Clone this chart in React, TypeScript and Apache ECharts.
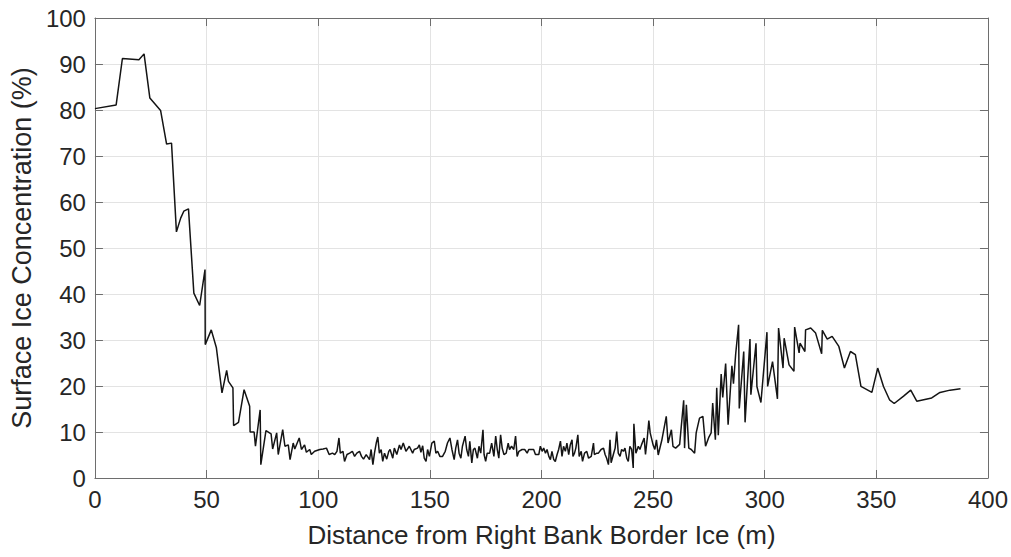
import React, { useEffect, useRef } from "react";
import * as echarts from "echarts";

const distance: number[] = [
  0, 9.5, 12.3, 19.7, 22.0, 24.6, 29.4, 32.1, 34.3, 36.5, 38.4, 39.8, 41.9, 44.3, 46.9, 49.3, 49.4, 52.1, 54.4, 56.9,
  59.0, 59.8, 61.8, 62.1, 64.3, 66.8, 69.3, 69.5, 71.3, 71.9, 74.0, 74.3, 76.6, 78.9, 79.6, 81.4, 82.1, 84.1, 85.1, 86.6,
  87.4, 88.8, 89.5, 91.5, 92.5, 93.9, 94.7, 96.2, 96.9, 98.4, 100.7, 102.2, 103.7, 104.9, 106.4, 107.4, 108.4, 109.3, 109.9, 111.1,
  111.8, 112.9, 114.1, 115.3, 116.3, 117.3, 118.5, 119.4, 120.3, 121.5, 123.0, 123.7, 124.5, 125.2, 126.0, 126.7, 127.4, 128.2, 128.9, 129.7,
  130.7, 131.6, 132.2, 133.4, 134.1, 135.2, 136.4, 137.1, 138.1, 139.3, 140.8, 142.3, 143.0, 144.5, 145.3, 146.0, 146.8, 147.5, 148.3, 149.0,
  149.8, 150.9, 152.0, 152.7, 153.5, 154.5, 155.7, 156.9, 157.9, 159.0, 159.9, 160.9, 161.6, 162.4, 163.1, 163.9, 164.6, 165.8, 166.5, 167.3,
  167.9, 168.8, 169.5, 170.2, 171.3, 172.0, 172.8, 173.8, 174.3, 175.0, 175.7, 176.8, 177.7, 178.7, 179.5, 180.2, 180.9, 181.7, 182.4, 183.2,
  184.2, 185.1, 185.7, 186.6, 187.6, 188.4, 189.1, 189.9, 191.3, 192.5, 193.6, 194.3, 195.8, 196.5, 197.3, 198.8, 199.5, 200.3, 201.0, 201.8,
  202.5, 203.3, 204.0, 204.7, 205.5, 206.2, 207.0, 207.7, 208.5, 209.2, 209.9, 210.7, 211.4, 212.2, 212.9, 213.7, 214.1, 214.8, 215.4, 216.3,
  216.9, 217.8, 218.4, 219.3, 220.3, 221.1, 222.3, 223.3, 223.7, 224.8, 225.5, 226.7, 227.8, 228.5, 229.2, 230.0, 230.7, 231.2, 232.2, 233.0,
  233.7, 234.4, 235.2, 235.9, 236.7, 237.4, 238.2, 238.9, 239.6, 240.4, 241.1, 241.4, 242.3, 243.4, 244.1, 244.8, 246.0, 246.6, 247.4, 248.1,
  248.7, 250.0, 250.8, 251.5, 252.3, 253.3, 253.9, 255.9, 256.7, 258.2, 258.9, 260.1, 261.9, 263.7, 264.1, 264.9, 266.0, 267.1, 268.6, 269.3,
  270.8, 272.3, 273.5, 275.0, 276.0, 276.7, 277.9, 278.5, 279.2, 280.5, 281.2, 282.5, 283.6, 285.3, 286.0, 287.0, 288.3, 288.6, 290.6, 291.2,
  293.4, 293.8, 296.1, 296.5, 298.3, 301.0, 301.3, 303.5, 305.7, 306.2, 308.2, 308.7, 310.9, 313.1, 313.4, 315.4, 315.8, 318.0, 318.3, 320.6,
  322.8, 325.5, 325.8, 328.0, 330.2, 333.2, 335.7, 338.4, 340.6, 343.1, 348.0, 350.6, 353.2, 355.9, 358.0, 362.2, 365.4, 368.1, 374.8, 378.5,
  383.0, 387.7,
];

const concentration: number[] = [
  80.3, 81.1, 91.2, 90.9, 92.2, 82.6, 79.9, 72.6, 72.8, 53.5, 56.5, 58.0, 58.5, 40.2, 37.5, 45.3, 29.0, 32.2, 28.3, 18.5,
  23.4, 21.0, 19.6, 11.4, 12.1, 19.2, 15.6, 10.0, 10.0, 6.9, 14.8, 2.9, 10.3, 9.6, 6.3, 9.8, 5.1, 10.5, 6.9, 7.2,
  4.0, 7.6, 6.3, 8.7, 6.2, 7.2, 5.6, 6.2, 5.1, 5.8, 6.2, 6.3, 6.5, 5.1, 5.4, 5.1, 5.8, 8.7, 5.4, 5.8,
  3.6, 5.1, 5.4, 5.8, 4.7, 5.4, 5.8, 4.7, 4.1, 5.1, 4.0, 6.2, 2.9, 5.4, 7.6, 8.9, 5.4, 6.2, 3.6, 5.4,
  4.1, 5.8, 6.2, 4.3, 6.5, 5.1, 7.2, 6.2, 7.6, 5.8, 6.9, 5.4, 6.2, 6.5, 7.2, 5.6, 7.0, 4.3, 3.6, 6.2,
  4.7, 7.6, 8.0, 5.4, 5.8, 4.7, 4.7, 5.8, 7.6, 8.7, 6.2, 4.0, 6.5, 8.3, 5.4, 4.3, 6.9, 9.1, 6.2, 4.7,
  8.0, 3.3, 6.2, 6.5, 4.3, 6.9, 5.4, 10.5, 5.1, 3.6, 5.4, 5.4, 7.6, 4.7, 9.1, 6.2, 4.3, 9.4, 6.5, 5.1,
  5.4, 7.6, 6.2, 6.9, 6.2, 9.1, 4.7, 5.8, 6.2, 6.2, 5.4, 6.2, 6.2, 6.2, 5.1, 5.1, 6.9, 5.8, 6.5, 5.4,
  6.2, 4.7, 4.0, 5.8, 4.0, 3.6, 5.1, 6.2, 8.0, 4.7, 6.9, 5.8, 7.6, 5.1, 7.2, 8.3, 4.7, 5.4, 6.5, 9.4,
  4.7, 5.8, 3.6, 5.4, 5.8, 4.3, 4.7, 7.6, 5.1, 5.4, 5.4, 6.2, 6.5, 5.1, 4.3, 2.9, 8.3, 3.3, 5.1, 6.5,
  10.1, 5.4, 4.7, 6.2, 5.8, 6.5, 4.3, 3.6, 6.9, 6.2, 2.2, 11.8, 5.4, 6.9, 6.2, 7.2, 8.7, 5.1, 8.7, 12.5,
  9.8, 7.2, 6.2, 8.3, 5.0, 7.0, 8.2, 13.4, 7.6, 10.5, 6.9, 6.5, 7.3, 16.9, 6.5, 15.9, 6.5, 6.2, 5.4, 9.8,
  13.0, 13.4, 6.9, 8.9, 9.8, 16.3, 8.3, 19.6, 9.3, 22.6, 17.5, 24.9, 11.6, 24.4, 20.5, 27.0, 33.3, 15.1, 27.5, 12.1,
  30.2, 18.1, 29.3, 19.9, 16.4, 31.7, 19.9, 25.3, 17.2, 32.6, 23.9, 30.4, 24.6, 23.2, 32.8, 27.2, 29.3, 27.5, 32.2, 32.6,
  31.5, 27.0, 32.1, 30.2, 30.8, 28.6, 23.9, 27.5, 26.8, 19.9, 18.6, 23.9, 19.9, 17.0, 16.2, 17.8, 19.1, 16.7, 17.4, 18.6,
  19.1, 19.4,
];

const xTicks = { min: 0, max: 400, interval: 50 };
const yTicks = { min: 0, max: 100, interval: 10 };
const xTitle = "Distance from Right Bank Border Ice (m)";
const yTitle = "Surface Ice Concentration (%)";

const FONT = "'Liberation Sans', Arial, Helvetica, sans-serif";
const TEXT = "#262626";
const FRAME = "#6e6e6e";
const GRID = "#e3e3e3";

export default function App() {
  const ref = useRef<HTMLDivElement>(null);
  useEffect(() => {
    if (!ref.current) return;
    const chart = echarts.init(ref.current, null, { renderer: "svg" });
    const data = distance.map((d, i) => [d, concentration[i]]);
    const axisCommon = {
      axisLine: { show: true, onZero: false, lineStyle: { color: FRAME, width: 1 } },
      axisTick: { show: true, inside: true, length: 8, lineStyle: { color: FRAME, width: 1 } },
    };
    chart.setOption({
      animation: false,
      backgroundColor: "#ffffff",
      grid: { left: 94, right: 21, top: 18, bottom: 79, containLabel: false },
      xAxis: [
        {
          type: "value",
          ...xTicks,
          position: "bottom",
          ...axisCommon,
          axisLabel: { color: TEXT, fontSize: 24, fontFamily: FONT, margin: 9 },
          splitLine: { show: true, lineStyle: { color: GRID, width: 1 } },
          name: xTitle,
          nameLocation: "middle",
          nameGap: 44,
          nameTextStyle: { color: TEXT, fontSize: 26, fontFamily: FONT },
        },
        {
          type: "value",
          ...xTicks,
          position: "top",
          ...axisCommon,
          axisLabel: { show: false },
          splitLine: { show: false },
        },
      ],
      yAxis: [
        {
          type: "value",
          ...yTicks,
          position: "left",
          ...axisCommon,
          axisLabel: { color: TEXT, fontSize: 24, fontFamily: FONT, margin: 9 },
          splitLine: { show: true, lineStyle: { color: GRID, width: 1 } },
          name: yTitle,
          nameLocation: "middle",
          nameGap: 56,
          nameTextStyle: { color: TEXT, fontSize: 27, fontFamily: FONT },
        },
        {
          type: "value",
          ...yTicks,
          position: "right",
          ...axisCommon,
          axisLabel: { show: false },
          splitLine: { show: false },
        },
      ],
      series: [
        {
          type: "line",
          data,
          xAxisIndex: 0,
          yAxisIndex: 0,
          showSymbol: false,
          symbol: "none",
          lineStyle: { color: "#141414", width: 1.5 },
          z: 5,
        },
      ],
    });
    return () => chart.dispose();
  }, []);
  return (
    <div
      ref={ref}
      style={{ position: "fixed", left: 0, top: 0, width: 1011, height: 557, background: "#fff" }}
    />
  );
}
